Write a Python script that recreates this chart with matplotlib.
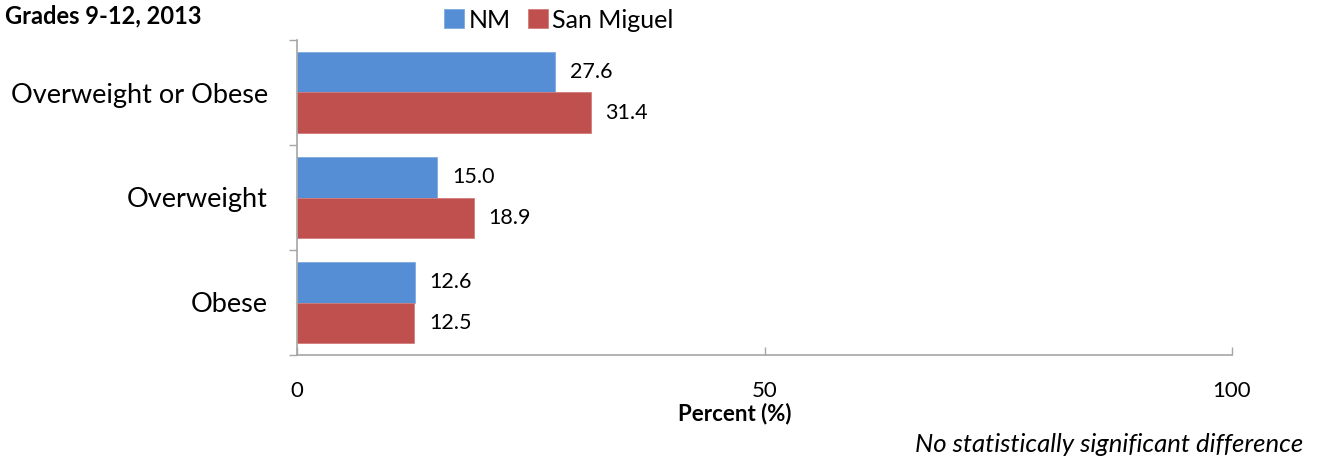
import matplotlib
matplotlib.use("Agg")
import matplotlib.pyplot as plt
import numpy as np

categories = ["Overweight or Obese", "Overweight", "Obese"]
nm_values = [27.6, 15.0, 12.6]
sm_values = [31.4, 18.9, 12.5]
series_names = ["NM", "San Miguel"]
x_ticks = [0, 50, 100]

BLUE = "#558ED5"
RED = "#C0504D"
FONT = "Lato"

plt.rcParams['font.family'] = [FONT, 'DejaVu Sans']

fig = plt.figure(figsize=(13.17, 4.63), dpi=100)
ax = fig.add_axes([297/1317, 1 - 355/463, (1232 - 297)/1317, (355 - 40)/463])

n = len(categories)
pos = np.arange(n)[::-1]  # top category at highest y
h = 0.381
ax.barh(pos + h/2, nm_values, height=h, color=BLUE, edgecolor="#7FA9DE", linewidth=0.6, label=series_names[0])
ax.barh(pos - h/2, sm_values, height=h, color=RED, edgecolor="#D27D7A", linewidth=0.6, label=series_names[1])

for p, v in zip(pos, nm_values):
    ax.text(v + 1.6, p + h/2, f"{v:.1f}", va="center", ha="left", fontsize=15.5)
for p, v in zip(pos, sm_values):
    ax.text(v + 1.6, p - h/2, f"{v:.1f}", va="center", ha="left", fontsize=15.5)

ax.set_xlim(0, 100)
ax.set_ylim(-0.5, n - 0.5)
ax.set_xticks(x_ticks)
ax.set_xticklabels([str(t) for t in x_ticks], fontsize=16)
ax.tick_params(axis="x", direction="in", length=6, width=1, color="#A6A6A6", pad=19)

ax.set_yticks(pos)
ax.set_yticklabels(categories, fontsize=19.5)
ax.tick_params(axis="y", which="major", length=0, pad=21)
ax.set_yticks(np.arange(-0.5, n, 1.0), minor=True)
ax.tick_params(axis="y", which="minor", direction="out", length=6, width=1, color="#A6A6A6")

for s in ["top", "right"]:
    ax.spines[s].set_visible(False)
for s in ["left", "bottom"]:
    ax.spines[s].set_color("#A6A6A6")
    ax.spines[s].set_linewidth(1.2)

fig.text(735/1317, 1 - 414/463, "Percent (%)", ha="center", va="center", fontsize=16, fontweight="bold")
fig.text(5/1317, 1 - 16/463, "Grades 9-12, 2013", ha="left", va="center", fontsize=17, fontweight="bold")
fig.text(1303/1317, 1 - 445/463, "No statistically significant difference", ha="right", va="center",
         fontsize=18.5, style="italic")

leg = fig.legend(loc="center", bbox_to_anchor=(559/1317, 1 - 20/463), ncol=2, frameon=False,
                 fontsize=18, handlelength=0.8, handleheight=0.8, handletextpad=0.2, columnspacing=0.65,
                 borderaxespad=0, borderpad=0)

fig.savefig("out.png", dpi=100)
